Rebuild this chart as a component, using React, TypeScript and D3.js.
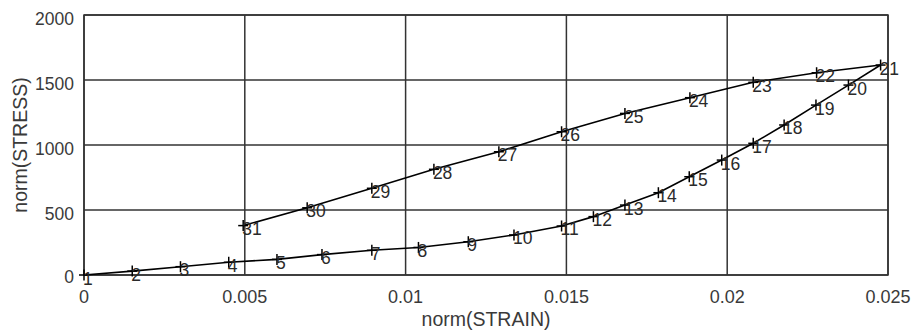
import React from "react";
import * as d3 from "d3";

const pointIds = [1,2,3,4,5,6,7,8,9,10,11,12,13,14,15,16,17,18,19,20,21,22,23,24,25,26,27,28,29,30,31];
const strain = [0, 0.0015, 0.003, 0.0045, 0.006, 0.0074, 0.00895, 0.0104, 0.01195, 0.01337, 0.01485, 0.01584, 0.01682, 0.01786, 0.01882, 0.01983, 0.02081, 0.02177, 0.02276, 0.02377, 0.02477, 0.02278, 0.02081, 0.01884, 0.01682, 0.01485, 0.0129, 0.01088, 0.00895, 0.00694, 0.00495];
const stress = [0, 30, 64, 98, 120, 157, 190, 212, 256, 308, 377, 449, 538, 633, 756, 884, 1013, 1154, 1307, 1461, 1615, 1556, 1482, 1364, 1243, 1102, 948, 813, 667, 517, 380];
const xTicks = [0, 0.005, 0.01, 0.015, 0.02, 0.025];
const xTickLabels = ["0", "0.005", "0.01", "0.015", "0.02", "0.025"];
const yTicks = [0, 500, 1000, 1500, 2000];
const yTickLabels = ["0", "500", "1000", "1500", "2000"];

const W = 913, H = 336;
const L = 84, R = 888, T = 15, B = 275;

export default function App() {
  const x = d3.scaleLinear().domain([0, 0.025]).range([L, R]);
  const y = d3.scaleLinear().domain([0, 2000]).range([B, T]);
  const pts = strain.map((s, i) => ({ id: pointIds[i], x: x(s), y: y(stress[i]) }));
  const line = d3.line<{ x: number; y: number }>().x(d => d.x).y(d => d.y);
  const font = "'Liberation Sans', Arial, sans-serif";
  const grid = "#333";
  return (
    <svg width={W} height={H} style={{ position: "absolute", left: 0, top: 0, background: "#fff" }}>
      <rect x={0} y={0} width={W} height={H} fill="#fff" />
      {xTicks.map((t, i) => (
        <line key={"gx" + i} x1={x(t)} x2={x(t)} y1={T} y2={B} stroke={grid} strokeWidth={1.5} />
      ))}
      {yTicks.map((t, i) => (
        <line key={"gy" + i} x1={L} x2={R} y1={y(t)} y2={y(t)} stroke={grid} strokeWidth={1.5} />
      ))}
      <rect x={L} y={T} width={R - L} height={B - T} fill="none" stroke={grid} strokeWidth={1.5} />
      {xTicks.map((t, i) => (
        <text key={"tx" + i} x={x(t)} y={303} textAnchor="middle" fontFamily={font} fontSize={18} fill="#3a3a3a">{xTickLabels[i]}</text>
      ))}
      {yTicks.map((t, i) => (
        <text key={"ty" + i} x={74} y={y(t) + (t === 0 ? 8 : 10)} textAnchor="end" fontFamily={font} fontSize={17.5} fill="#3a3a3a">{yTickLabels[i]}</text>
      ))}
      <text x={486} y={326} textAnchor="middle" fontFamily={font} fontSize={19.5} fill="#3a3a3a">norm(STRAIN)</text>
      <text transform={`translate(27,${(T + B) / 2}) rotate(-90)`} textAnchor="middle" fontFamily={font} fontSize={19.5} fill="#3a3a3a">norm(STRESS)</text>
      <path d={line(pts) || ""} fill="none" stroke="#000" strokeWidth={1.6} />
      {pts.map(p => (
        <g key={"m" + p.id}>
          <line x1={p.x - 5} x2={p.x + 5} y1={p.y} y2={p.y} stroke="#000" strokeWidth={1.5} />
          <line x1={p.x} x2={p.x} y1={p.y - 5.5} y2={p.y + 5.5} stroke="#000" strokeWidth={1.5} />
          <text x={p.x - 1} y={p.y + 9.5} fontFamily={font} fontSize={17.5} fill="#2a2a2a">{p.id}</text>
        </g>
      ))}
    </svg>
  );
}
